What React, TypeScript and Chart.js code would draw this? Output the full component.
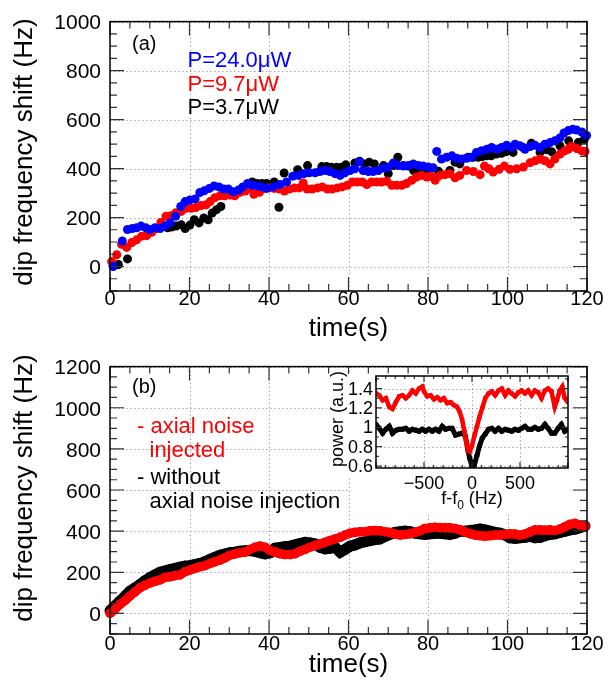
import React, { useEffect, useRef } from 'react';
import { Chart, registerables } from 'chart.js';
Chart.register(...registerables);

const FONT = "'Liberation Sans', Arial, Helvetica, sans-serif";

// ---------- Panel (a) ----------
const tBlue = [0.8,3.1,4.4,5.6,6.7,7.8,9.0,10.0,11.3,12.6,13.8,15.1,16.5,17.8,18.9,20.1,21.4,22.6,23.7,25.0,26.2,27.4,28.6,29.8,31.0,32.3,33.4,34.6,35.8,37.0,38.2,39.4,41.1,42.8,44.4,46.0,47.4,48.8,50.1,51.6,52.8,54.1,55.3,56.6,57.9,59.1,60.4,61.6,62.7,63.7,65.0,66.2,67.5,68.8,70.0,71.3,72.5,73.8,75.1,76.3,77.6,78.8,80.1,81.3,82.2,83.4,84.7,86.0,87.2,88.5,89.7,91.0,92.2,93.5,94.8,96.0,97.3,98.5,99.8,101.0,101.9,103.1,104.4,105.7,106.9,108.2,109.4,110.7,111.9,113.2,114.2,115.3,116.4,117.4,118.7,119.9];
const vBlue = [0,104,151,155,158,165,158,151,158,155,165,178,205,245,265,272,276,302,309,319,329,325,316,316,305,312,325,339,332,329,325,319,325,335,345,369,372,379,383,383,388,392,388,379,372,383,392,399,428,392,388,388,392,402,406,423,412,410,412,419,412,410,406,403,470,439,446,452,442,439,442,446,466,473,479,486,479,486,495,486,499,493,479,490,495,486,499,506,513,525,545,555,560,557,549,535];

const tRed = [0.4,1.7,2.9,4.2,5.5,6.7,8.0,9.2,10.5,11.7,12.8,14.1,15.3,16.6,17.9,19.1,20.4,21.6,22.9,24.2,25.2,26.4,27.7,28.9,30.2,31.4,32.7,34.0,35.2,36.2,37.6,38.8,40.1,41.3,42.6,43.9,45.1,46.4,47.6,48.6,49.6,50.9,52.2,53.4,54.7,55.9,57.2,58.4,59.7,61.0,62.2,63.5,64.6,65.8,67.1,68.3,69.6,70.9,72.1,73.4,74.6,75.9,77.1,78.4,79.7,80.7,81.8,83.0,84.3,85.5,86.8,88.0,89.7,91.4,93.1,94.2,95.3,96.4,97.9,99.2,100.6,102.3,104.0,105.7,107.0,108.2,109.4,110.7,111.9,113.2,114.4,115.3,116.1,117.4,118.7,119.5];
const vRed = [20,48,91,78,98,109,124,126,140,155,180,205,207,220,225,238,238,241,249,252,265,281,289,289,292,289,303,308,319,295,303,319,321,319,316,308,316,321,321,341,316,316,321,325,316,316,321,325,332,345,345,345,335,345,345,345,348,332,332,332,339,352,365,372,365,369,352,372,375,379,362,372,392,388,375,410,399,386,397,410,397,399,406,424,432,439,432,419,439,459,472,479,490,482,472,470];

const tBlack = [0.8,2.1,4.4,14.5,15.5,16.6,17.9,18.9,20.1,21.2,22.4,23.6,24.7,25.7,26.8,27.9,35.8,37.0,38.2,39.4,41.3,42.5,43.8,47.2,49.7,53.3,54.5,55.7,57.0,58.2,59.3,61.6,62.8,64.0,65.2,66.5,68.8,70.0,71.3,72.4,73.8,75.0,76.4,77.6,78.8,80.1,82.6,85.5,86.8,88.0,90.1,91.3,92.6,93.6,94.7,95.9,97.2,98.5,99.7,101.4,103.9,106.0,108.2,109.8,111.1,113.2,115.4,117.8,119.3];
const vBlack = [4,8,31,158,161,165,171,155,169,191,178,198,191,218,232,245,345,339,339,339,345,242,382,395,412,408,408,405,405,405,415,423,430,419,426,419,412,379,412,446,412,410,392,388,392,392,389,392,426,419,446,446,446,449,452,452,459,462,469,466,486,503,466,477,469,493,513,506,519];

const xTicks = [0, 20, 40, 60, 80, 100, 120];
const xTickLabels = ['0', '20', '40', '60', '80', '100', '120'];
const yTicksA = [0, 200, 400, 600, 800, 1000];
const yTickLabelsA = ['0', '200', '400', '600', '800', '1000'];
const legendA = ['P=24.0\u03bcW', 'P=9.7\u03bcW', 'P=3.7\u03bcW'];

// ---------- Panel (b) ----------
const tB = [0,1.3,2.5,3.8,5.0,6.3,7.5,8.8,10.1,11.3,12.6,13.8,15.1,16.4,17.6,18.9,20.1,21.4,22.6,23.9,25.2,26.4,27.7,28.9,30.2,31.4,32.7,34.0,35.2,36.5,37.7,39.0,40.3,41.5,42.8,44.0,45.3,46.5,47.8,49.1,50.3,51.6,52.8,54.1,55.3,56.6,57.9,59.1,60.4,61.6,62.9,64.2,65.4,66.7,67.9,69.2,70.4,71.7,73.0,74.2,75.5,76.7,78.0,79.2,80.5,81.8,83.0,84.3,85.5,86.8,88.1,89.3,90.6,91.8,93.1,94.3,95.6,96.9,98.1,99.4,100.6,101.9,103.1,104.4,105.7,106.9,108.2,109.4,110.7,111.9,113.2,114.5,115.7,117.0,118.2,119.5];
const vNoise = [0,21,44,63,84,105,124,137,148,156,163,175,178,184,187,203,211,219,227,232,243,251,259,270,283,289,295,298,311,322,327,322,306,298,290,286,286,290,302,311,322,330,338,346,354,362,370,381,390,394,397,397,402,403,402,397,394,386,381,384,387,394,402,413,416,419,417,416,416,413,406,397,387,381,378,375,378,381,381,384,387,386,381,386,397,406,406,405,406,403,410,422,433,438,429,425];
const vNoNoise = [13,37,60,84,108,124,140,159,175,187,200,206,213,219,225,230,232,238,243,251,263,273,283,289,295,298,302,305,306,302,295,290,295,317,321,324,327,333,340,346,343,338,322,314,317,322,298,311,327,333,343,349,354,359,362,375,384,394,397,400,397,390,387,384,387,390,390,387,384,390,400,400,403,406,410,406,400,394,390,381,368,365,368,370,375,368,370,378,384,387,394,400,406,410,417,425];
const yTicksB = [0, 200, 400, 600, 800, 1000, 1200];
const yTickLabelsB = ['0', '200', '400', '600', '800', '1000', '1200'];

// ---------- Inset ----------
const fRed = [-1000,-966,-931,-897,-862,-828,-793,-759,-724,-690,-655,-621,-586,-552,-517,-500,-466,-431,-397,-362,-328,-293,-259,-224,-190,-155,-128,-103,-79,-59,-41,-24,0,24,52,79,107,138,172,207,241,276,310,345,379,414,448,483,517,552,586,621,655,690,724,759,793,828,862,886,914,941,966,1000];
const pRed = [1.35,1.33,1.28,1.30,1.21,1.19,1.26,1.32,1.33,1.30,1.33,1.38,1.35,1.40,1.42,1.37,1.32,1.33,1.29,1.31,1.28,1.30,1.25,1.26,1.23,1.21,1.16,1.08,0.96,0.84,0.76,0.75,0.81,0.91,1.01,1.11,1.20,1.30,1.35,1.37,1.33,1.38,1.40,1.33,1.38,1.35,1.32,1.36,1.38,1.35,1.38,1.33,1.38,1.36,1.30,1.38,1.40,1.37,1.21,1.28,1.38,1.42,1.30,1.26];
const fBlack = [-1000,-966,-931,-897,-862,-828,-793,-759,-724,-690,-655,-621,-586,-552,-517,-483,-448,-414,-379,-345,-310,-276,-241,-207,-172,-138,-103,-69,-41,-24,0,24,52,79,107,138,172,207,241,276,310,345,379,414,448,483,517,552,586,621,655,690,724,759,793,828,862,897,931,966,1000];
const pBlack = [1.03,0.99,0.94,0.98,1.01,0.94,0.97,0.98,0.98,0.99,0.96,0.98,0.97,0.96,0.98,0.96,0.98,0.96,0.98,0.96,1.01,0.98,0.99,0.99,0.92,0.93,0.94,0.91,0.76,0.68,0.60,0.61,0.71,0.81,0.89,0.93,0.98,0.99,0.96,0.99,0.96,0.98,0.97,0.96,0.98,0.97,0.99,1.01,0.98,0.98,1.00,0.98,0.99,1.03,0.99,0.94,0.94,0.99,1.03,0.96,0.98];
const xTicksInset = [-500, 0, 500];
const xTickLabelsInset = ['\u2212500', '0', '500'];
const yTicksInset = [0.6, 0.8, 1, 1.2, 1.4];
const yTickLabelsInset = ['0.6', '0.8', '1', '1.2', '1.4'];

const pts = (xs: number[], ys: number[]) => {
  const n = Math.min(xs.length, ys.length);
  const out: { x: number; y: number }[] = [];
  for (let i = 0; i < n; i++) out.push({ x: xs[i], y: ys[i] });
  return out;
};

type Part = { t: string; size: number; dy: number };
type TextItem = { text?: string; parts?: Part[]; x: number; y: number; color: string; size?: number; rotate?: number; align?: 'left' | 'center'; baseline?: CanvasTextBaseline };

function drawTexts(ctx: CanvasRenderingContext2D, texts: TextItem[]) {
  for (const it of texts) {
    ctx.save();
    ctx.fillStyle = it.color;
    ctx.translate(it.x, it.y);
    if (it.rotate) ctx.rotate(it.rotate);
    const parts: Part[] = it.parts ?? [{ t: it.text || '', size: it.size || 20, dy: 0 }];
    let total = 0;
    for (const p of parts) { ctx.font = `${p.size}px ${FONT}`; total += ctx.measureText(p.t).width; }
    let x = it.align === 'center' ? -total / 2 : 0;
    ctx.textBaseline = it.baseline ?? 'alphabetic';
    ctx.textAlign = 'left';
    for (const p of parts) {
      ctx.font = `${p.size}px ${FONT}`;
      ctx.fillText(p.t, x, p.dy);
      x += ctx.measureText(p.t).width;
    }
    ctx.restore();
  }
}

type Decor = { xGrid: number[]; yGrid: number[]; xMinor: number; xMajor: number; yMinor: number; yMajor: number; majLen: number; minLen: number; frameW: number };

function makeDecor(id: string, d: Decor, texts: TextItem[], bg?: (ctx: CanvasRenderingContext2D) => void) {
  return {
    id,
    beforeDraw(chart: any) {
      if (bg) bg(chart.ctx);
    },
    beforeDatasetsDraw(chart: any) {
      const ctx: CanvasRenderingContext2D = chart.ctx;
      const xs = chart.scales.x, ys = chart.scales.y;
      const { left, right, top, bottom } = chart.chartArea;
      ctx.save();
      ctx.strokeStyle = '#a8a8a8';
      ctx.lineWidth = 1;
      ctx.setLineDash([1.5, 2.5]);
      for (const v of d.xGrid) {
        const px = Math.round(xs.getPixelForValue(v)) + 0.5;
        ctx.beginPath(); ctx.moveTo(px, top); ctx.lineTo(px, bottom); ctx.stroke();
      }
      for (const v of d.yGrid) {
        const py = Math.round(ys.getPixelForValue(v)) + 0.5;
        ctx.beginPath(); ctx.moveTo(left, py); ctx.lineTo(right, py); ctx.stroke();
      }
      ctx.restore();
    },
    afterDatasetsDraw(chart: any) {
      const ctx: CanvasRenderingContext2D = chart.ctx;
      const xs = chart.scales.x, ys = chart.scales.y;
      const { left, right, top, bottom } = chart.chartArea;
      ctx.save();
      ctx.strokeStyle = '#333';
      ctx.lineWidth = 1.2;
      const rx = Math.round(d.xMajor / d.xMinor);
      const kx0 = Math.ceil(xs.min / d.xMinor - 1e-9), kx1 = Math.floor(xs.max / d.xMinor + 1e-9);
      for (let k = kx0; k <= kx1; k++) {
        const px = xs.getPixelForValue(k * d.xMinor);
        const len = k % rx === 0 ? d.majLen : d.minLen;
        ctx.beginPath();
        ctx.moveTo(px, bottom); ctx.lineTo(px, bottom - len);
        ctx.moveTo(px, top); ctx.lineTo(px, top + len);
        ctx.stroke();
      }
      const ry = Math.round(d.yMajor / d.yMinor);
      const ky0 = Math.ceil(ys.min / d.yMinor - 1e-9), ky1 = Math.floor(ys.max / d.yMinor + 1e-9);
      for (let k = ky0; k <= ky1; k++) {
        const py = ys.getPixelForValue(k * d.yMinor);
        const len = k % ry === 0 ? d.majLen : d.minLen;
        ctx.beginPath();
        ctx.moveTo(left, py); ctx.lineTo(left + len, py);
        ctx.moveTo(right, py); ctx.lineTo(right - len, py);
        ctx.stroke();
      }
      ctx.strokeStyle = '#000';
      ctx.lineWidth = d.frameW;
      ctx.strokeRect(left, top, right - left, bottom - top);
      ctx.restore();
    },
    afterDraw(chart: any) {
      drawTexts(chart.ctx, texts);
    },
  };
}

function labelFrom(values: number[], labels: string[]) {
  return (v: any) => {
    const i = values.findIndex((x) => Math.abs(x - Number(v)) < 1e-9);
    return i >= 0 ? labels[i] : '';
  };
}

const noGrid = { display: false, drawTicks: false, tickLength: 0 };

function mainScales(yMin: number, yMax: number, yTicks: number[], yLabels: string[], xHeight: number, xPad: number, titlePadBottom: number) {
  return {
    x: {
      type: 'linear', min: 0, max: 120,
      grid: noGrid, border: { display: false },
      afterBuildTicks: (s: any) => { s.ticks = xTicks.map((v) => ({ value: v })); },
      afterFit: (s: any) => { s.height = xHeight; },
      ticks: { padding: xPad, autoSkip: false, maxRotation: 0, color: '#000', font: { size: 20, family: FONT }, callback: labelFrom(xTicks, xTickLabels) },
      title: { display: true, text: 'time(s)', color: '#000', font: { size: 26, family: FONT }, padding: { top: 0, bottom: titlePadBottom } },
    },
    y: {
      type: 'linear', min: yMin, max: yMax,
      grid: noGrid, border: { display: false },
      afterBuildTicks: (s: any) => { s.ticks = yTicks.map((v) => ({ value: v })); },
      afterFit: (s: any) => { s.width = 110; },
      ticks: { padding: 9, labelOffset: 2, autoSkip: false, color: '#000', font: { size: 21, family: FONT }, callback: labelFrom(yTicks, yLabels) },
    },
  };
}

export default function App() {
  const refA = useRef<HTMLCanvasElement>(null);
  const refB = useRef<HTMLCanvasElement>(null);
  const refI = useRef<HTMLCanvasElement>(null);

  useEffect(() => {
    const charts: Chart[] = [];
    const common = { animation: false, responsive: false, devicePixelRatio: 1, plugins: { legend: { display: false }, tooltip: { enabled: false } } };

    // Panel (a)
    const decorA = makeDecor('decorA', { xGrid: [20, 40, 60, 80, 100], yGrid: yTicksA, xMinor: 5, xMajor: 20, yMinor: 50, yMajor: 200, majLen: 14, minLen: 7, frameW: 1.5 }, [
      { text: 'dip frequency shift (Hz)', x: 25, y: 152, color: '#000', size: 26, rotate: -Math.PI / 2, align: 'center', baseline: 'middle' },
      { text: '(a)', x: 132, y: 49.5, color: '#000', size: 20 },
      { text: legendA[0], x: 187.5, y: 66.7, color: '#0000ff', size: 22 },
      { text: legendA[1], x: 187.5, y: 90.7, color: '#ff0000', size: 22 },
      { text: legendA[2], x: 187.5, y: 114.3, color: '#000000', size: 22 },
    ]);
    charts.push(new Chart(refA.current!, {
      type: 'scatter',
      data: {
        datasets: [
          { label: legendA[0], data: pts(tBlue, vBlue), backgroundColor: '#0000ff', borderColor: '#0000ff', borderWidth: 0, pointRadius: 4.5, clip: false },
          { label: legendA[1], data: pts(tRed, vRed), backgroundColor: '#ff0000', borderColor: '#ff0000', borderWidth: 0, pointRadius: 4.5, clip: false },
          { label: legendA[2], data: pts(tBlack, vBlack), backgroundColor: '#000000', borderColor: '#000000', borderWidth: 0, pointRadius: 4.5, clip: false },
        ],
      } as any,
      options: {
        ...common,
        layout: { padding: { top: 17, right: 21, left: 0, bottom: 0 } },
        scales: mainScales(-100, 1000, yTicksA, yTickLabelsA, 54, -4, 1),
      } as any,
      plugins: [decorA],
    }));

    // Panel (b)
    const decorB = makeDecor('decorB', { xGrid: [20, 40, 60, 80, 100], yGrid: yTicksB, xMinor: 5, xMajor: 20, yMinor: 50, yMajor: 200, majLen: 14, minLen: 7, frameW: 1.5 }, [
      { text: 'dip frequency shift (Hz)', x: 25, y: 143, color: '#000', size: 26, rotate: -Math.PI / 2, align: 'center', baseline: 'middle' },
      { text: '(b)', x: 132, y: 47.5, color: '#000', size: 20 },
      { text: '- axial noise', x: 137, y: 87.5, color: '#ff0000', size: 22 },
      { text: 'injected', x: 149.5, y: 111.5, color: '#ff0000', size: 22 },
      { text: '- without', x: 137, y: 139, color: '#000', size: 22 },
      { text: 'axial noise injection', x: 149.5, y: 163, color: '#000', size: 22 },
    ]);
    charts.push(new Chart(refB.current!, {
      type: 'scatter',
      data: {
        datasets: [
          { label: 'axial noise injected', data: pts(tB, vNoise), showLine: true, borderColor: '#ff0000', backgroundColor: '#ff0000', borderWidth: 9, pointRadius: 4.8, pointBorderWidth: 0, tension: 0, clip: false },
          { label: 'without axial noise injection', data: pts(tB, vNoNoise), showLine: true, borderColor: '#000000', backgroundColor: '#000000', borderWidth: 11, pointRadius: 5.5, pointBorderWidth: 0, tension: 0, clip: false },
        ],
      } as any,
      options: {
        ...common,
        layout: { padding: { top: 15, right: 21, left: 0, bottom: 0 } },
        scales: mainScales(-100, 1200, yTicksB, yTickLabelsB, 52, -2, 6),
      } as any,
      plugins: [decorB],
    }));

    // Inset
    const decorI = makeDecor('decorI', { xGrid: xTicksInset, yGrid: yTicksInset, xMinor: 100, xMajor: 500, yMinor: 0.1, yMajor: 0.2, majLen: 6, minLen: 3, frameW: 1.5 }, [
      { text: 'power (a.u.)', x: 16, y: 59, color: '#000', size: 18, rotate: -Math.PI / 2, align: 'center', baseline: 'middle' },
      { parts: [{ t: 'f-f', size: 18, dy: 0 }, { t: '0', size: 12, dy: 5 }, { t: ' (Hz)', size: 18, dy: 0 }], x: 150, y: 144, color: '#000', align: 'center' },
    ], (ctx) => {
      ctx.save();
      ctx.fillStyle = '#ffffff';
      ctx.fillRect(5, 14, 244, 102);
      ctx.fillRect(28, 116, 221, 36);
      ctx.restore();
    });
    charts.push(new Chart(refI.current!, {
      type: 'scatter',
      data: {
        datasets: [
          { label: 'red', data: pts(fRed, pRed), showLine: true, borderColor: '#ff0000', backgroundColor: '#ff0000', borderWidth: 4.5, pointRadius: 2.4, pointBorderWidth: 0, tension: 0 },
          { label: 'black', data: pts(fBlack, pBlack), showLine: true, borderColor: '#000000', backgroundColor: '#000000', borderWidth: 5, pointRadius: 2.6, pointBorderWidth: 0, tension: 0 },
        ],
      } as any,
      options: {
        ...common,
        layout: { padding: { top: 16, right: 6, left: 0, bottom: 0 } },
        scales: {
          x: {
            type: 'linear', min: -1000, max: 1000,
            grid: noGrid, border: { display: false },
            afterBuildTicks: (s: any) => { s.ticks = xTicksInset.map((v) => ({ value: v })); },
            afterFit: (s: any) => { s.height = 44; },
            ticks: { padding: 5, autoSkip: false, maxRotation: 0, color: '#000', font: { size: 18, family: FONT }, callback: labelFrom(xTicksInset, xTickLabelsInset) },
          },
          y: {
            type: 'linear', min: 0.58, max: 1.53,
            grid: noGrid, border: { display: false },
            afterBuildTicks: (s: any) => { s.ticks = yTicksInset.map((v) => ({ value: v })); },
            afterFit: (s: any) => { s.width = 54; },
            ticks: { padding: 3, labelOffset: 1, autoSkip: false, color: '#000', font: { size: 18, family: FONT }, callback: labelFrom(yTicksInset, yTickLabelsInset) },
          },
        },
      } as any,
      plugins: [decorI],
    }));

    return () => { charts.forEach((c) => c.destroy()); };
  }, []);

  return (
    <div style={{ position: 'absolute', left: 0, top: 0, width: 608, height: 686, background: '#fff', overflow: 'hidden' }}>
      <canvas ref={refA} width={608} height={345} style={{ position: 'absolute', left: 0, top: 0, width: 608, height: 345 }} />
      <canvas ref={refB} width={608} height={341} style={{ position: 'absolute', left: 0, top: 345, width: 608, height: 341 }} />
      <canvas ref={refI} width={252} height={152} style={{ position: 'absolute', left: 322, top: 360, width: 252, height: 152 }} />
    </div>
  );
}
